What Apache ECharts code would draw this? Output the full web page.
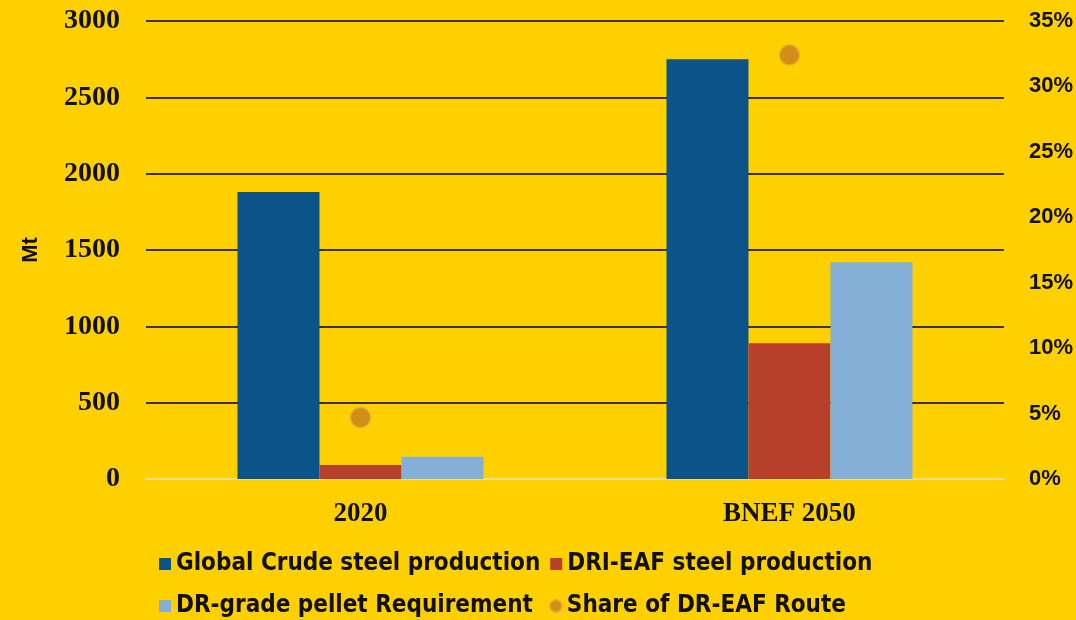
<!DOCTYPE html>
<html><head><meta charset="utf-8">
<script src="https://cdn.jsdelivr.net/npm/echarts@6/dist/echarts.min.js"></script>
<style>html,body{margin:0;padding:0;background:#FFD000;}#c{width:1076px;height:620px;}</style>
</head><body><div id="c"></div>
<script>
const categories = ['2020', 'BNEF 2050'];
const globalCrude = [1880, 2750];
const driEaf = [92, 890];
const pellet = [145, 1420];
const shareDrEaf = [4.7, 32.4];
const leftTicks = {min: 0, max: 3000, interval: 500};
const rightTicks = {min: 0, max: 35, interval: 5};

const chart = echarts.init(document.getElementById('c'));
const legendText = {fontFamily: 'DejaVu Sans Condensed, DejaVu Sans', fontWeight: 'bold', fontSize: 24, color: '#111'};
chart.setOption({
  backgroundColor: '#FFD000',
  animation: false,
  grid: {left: 146, right: 72, top: 21, bottom: 141},
  legend: [
    {left: 154, top: 547, itemWidth: 12, itemHeight: 12, itemGap: 10, textStyle: legendText,
     data: [{name: 'Global Crude steel production', icon: 'rect'}, {name: 'DRI-EAF steel production', icon: 'rect'}]},
    {left: 154, top: 589, itemWidth: 12, itemHeight: 12, itemGap: 16, textStyle: legendText,
     data: [{name: 'DR-grade pellet Requirement', icon: 'rect'}, {name: 'Share of DR-EAF Route', icon: 'circle'}]}
  ],
  xAxis: {
    type: 'category', data: categories,
    axisLine: {lineStyle: {color: '#EDDC8C', width: 2}},
    axisTick: {show: false},
    axisLabel: {margin: 22, fontFamily: 'Liberation Serif', fontWeight: 'bold', fontSize: 27, color: '#111'}
  },
  yAxis: [
    {type: 'value', min: leftTicks.min, max: leftTicks.max, interval: leftTicks.interval,
     name: 'Mt', nameLocation: 'middle', nameGap: 104, nameRotate: 90,
     nameTextStyle: {fontFamily: 'Liberation Sans', fontWeight: 'bold', fontSize: 22, color: '#111'},
     axisLine: {show: false}, axisTick: {show: false},
     axisLabel: {margin: 26, formatter: v => String(v), fontFamily: 'Liberation Serif', fontWeight: 'bold', fontSize: 28, color: '#111'},
     splitLine: {lineStyle: {color: '#3A3200', width: 2}}},
    {type: 'value', min: rightTicks.min, max: rightTicks.max, interval: rightTicks.interval,
     axisLine: {show: false}, axisTick: {show: false}, splitLine: {show: false},
     axisLabel: {margin: 25, formatter: '{value}%', fontFamily: 'Liberation Sans', fontWeight: 'bold', fontSize: 22, color: '#111'}}
  ],
  series: [
    {name: 'Global Crude steel production', type: 'bar', data: globalCrude, barWidth: 82, barGap: '0%', itemStyle: {color: '#0B5489'}},
    {name: 'DRI-EAF steel production', type: 'bar', data: driEaf, barWidth: 82, barGap: '0%', itemStyle: {color: '#B8402A'}},
    {name: 'DR-grade pellet Requirement', type: 'bar', data: pellet, barWidth: 82, barGap: '0%', itemStyle: {color: '#84AFD6'}},
    {name: 'Share of DR-EAF Route', type: 'scatter', yAxisIndex: 1, data: shareDrEaf, symbolSize: 20,
     itemStyle: {color: '#C77E1E', borderColor: '#E8A640', borderWidth: 1.5}, z: 5}
  ]
});
</script></body></html>
